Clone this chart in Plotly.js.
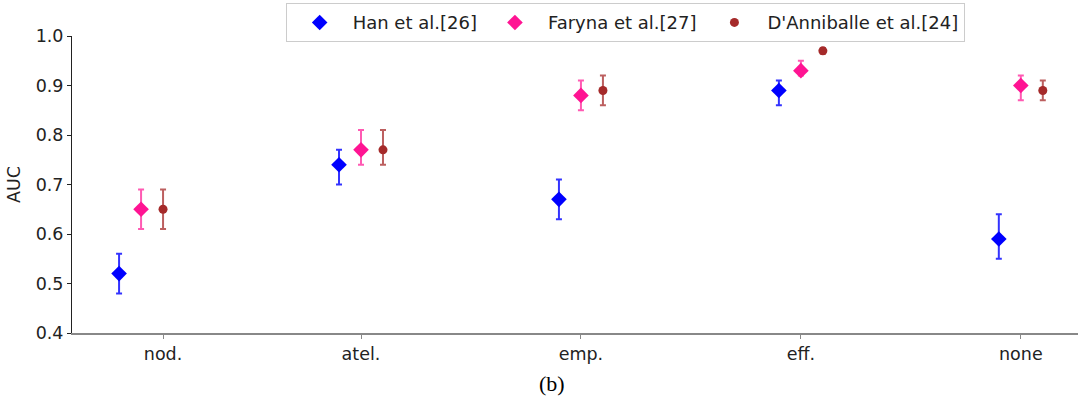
<!DOCTYPE html>
<html><head><meta charset="utf-8">
<script src="https://cdn.plot.ly/plotly-3.0.1.min.js"></script>
<style>html,body{margin:0;padding:0;background:#fff}#chart{width:1078px;height:404px}</style>
</head><body><div id="chart"></div>
<script>
const categories = ["nod.", "atel.", "emp.", "eff.", "none"];
const tickPositions = [0.1, 1, 2, 3, 4];
const seriesNames = ["Han et al.[26]", "Faryna et al.[27]", "D'Anniballe et al.[24]"];
const hanAUC = [0.52, 0.74, 0.67, 0.89, 0.59];
const hanPlus = [0.04, 0.03, 0.04, 0.02, 0.05];
const hanMinus = [0.04, 0.04, 0.04, 0.03, 0.04];
const farynaAUC = [0.65, 0.77, 0.88, 0.93, 0.90];
const farynaPlus = [0.04, 0.04, 0.03, 0.02, 0.02];
const farynaMinus = [0.04, 0.03, 0.03, 0.01, 0.03];
const danniAUC = [0.65, 0.77, 0.89, 0.97, 0.89];
const danniPlus = [0.04, 0.04, 0.03, 0.006, 0.02];
const danniMinus = [0.04, 0.03, 0.03, 0.006, 0.02];
const offsets = [-0.1, 0, 0.1];

function mk(i, y, plus, minus, color, errColor, symbol, size) {
  return {
    type: 'scatter', mode: 'markers', name: seriesNames[i],
    x: categories.map((c, k) => k + offsets[i]), y: y,
    text: categories,
    marker: {color: color, symbol: symbol, size: size},
    error_y: {type: 'data', symmetric: false, array: plus, arrayminus: minus,
      color: errColor, thickness: 2, width: 3}
  };
}
const data = [
  mk(0, hanAUC, hanPlus, hanMinus, '#0000ff', 'rgba(0,0,255,0.8)', 'diamond', 12),
  mk(1, farynaAUC, farynaPlus, farynaMinus, '#ff1493', 'rgba(255,20,147,0.7)', 'diamond', 12),
  mk(2, danniAUC, danniPlus, danniMinus, '#a52a2a', 'rgba(165,42,42,0.75)', 'circle', 9)
];
const layout = {
  width: 1078, height: 404,
  margin: {l: 72, r: 0, t: 36, b: 71, autoexpand: false},
  paper_bgcolor: '#fff', plot_bgcolor: '#fff',
  font: {family: 'DejaVu Sans', size: 17.5, color: '#222'},
  showlegend: true,
  legend: {orientation: 'h', xref: 'container', yref: 'container',
    x: 0.265, xanchor: 'left', y: 0.992, yanchor: 'top',
    bordercolor: '#cccccc', borderwidth: 1, bgcolor: 'rgba(255,255,255,0.9)',
    font: {family: 'DejaVu Sans', size: 18, color: '#222'}, itemwidth: 56,
    traceorder: 'normal'},
  xaxis: {range: [-0.314, 4.26], tickvals: tickPositions, ticktext: categories,
    showgrid: false, zeroline: false, showline: true, linecolor: '#888', linewidth: 2,
    ticks: 'outside', ticklen: 4, tickcolor: '#888', tickfont: {size: 17.5}},
  yaxis: {range: [0.4, 1.0], dtick: 0.1, tickformat: '.1f',
    showgrid: false, zeroline: false, showline: true, linecolor: '#222', linewidth: 1,
    ticks: 'outside', ticklen: 4, tickcolor: '#222', tickfont: {size: 17.5},
    title: {text: 'AUC', font: {size: 17.5}, standoff: 10}},
  annotations: [{text: '(b)', xref: 'paper', yref: 'paper', x: 0.477, y: -0.17,
    xanchor: 'center', yanchor: 'middle', showarrow: false,
    font: {family: 'Liberation Serif', size: 22, color: '#000'}}]
};
Plotly.newPlot('chart', data, layout, {displayModeBar: false});
</script></body></html>
